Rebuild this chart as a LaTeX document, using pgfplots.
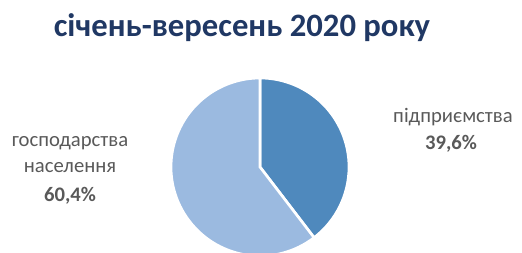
\documentclass[border=0pt]{standalone}
\usepackage{pgfplots}
\pgfplotsset{compat=1.18}
\usepackage{pgfplotstable}
\usepackage{fontspec}
\setmainfont{Carlito}
\definecolor{darkslice}{HTML}{4F89BD}
\definecolor{lightslice}{HTML}{9BBAE0}
\definecolor{titleblue}{HTML}{203864}
\definecolor{labgray}{HTML}{595959}
\pgfplotstableread{
label value
pidpr 39.6
gosp 60.4
}\piedata
\begin{document}
\begin{tikzpicture}
\pgfplotstablegetelem{0}{value}\of\piedata \let\va\pgfplotsretval
\pgfplotstablegetelem{1}{value}\of\piedata \let\vb\pgfplotsretval
\begin{axis}[
  hide axis, scale only axis, anchor=south west, at={(0,0)},
  x=0.75pt, y=0.75pt, xmin=0, xmax=522, ymin=0, ymax=253,
  clip=false,
]
\pgfmathsetmacro{\aend}{90-\va*3.6}
\pgfmathsetmacro{\bend}{\aend-\vb*3.6}
\fill[darkslice, draw=white, line width=2pt, line join=miter]
  (axis cs:260,86) -- ++(90:66.75pt) arc[start angle=90, end angle=\aend, radius=66.75pt] -- cycle;
\fill[lightslice, draw=white, line width=2pt, line join=miter]
  (axis cs:260,86) -- ++(\aend:66.75pt) arc[start angle=\aend, end angle=\bend, radius=66.75pt] -- cycle;
\node[anchor=base, text=titleblue, font=\fontsize{24.5pt}{28pt}\selectfont\bfseries] at (axis cs:242,216) {січень-вересень 2020 року};
\node[anchor=base, text=labgray, font=\fontsize{15.5pt}{18pt}\selectfont] at (axis cs:70,106) {господарства};
\node[anchor=base, text=labgray, font=\fontsize{15.5pt}{18pt}\selectfont] at (axis cs:70,80) {населення};
\node[anchor=base, text=labgray, font=\fontsize{15.5pt}{18pt}\selectfont\bfseries] at (axis cs:70,51) {60,4\%};
\node[anchor=base, text=labgray, font=\fontsize{15.5pt}{18pt}\selectfont] at (axis cs:453,130) {підприємства};
\node[anchor=base, text=labgray, font=\fontsize{15.5pt}{18pt}\selectfont\bfseries] at (axis cs:451,103) {39,6\%};
\end{axis}
\pgfresetboundingbox
\path[use as bounding box] (0,0) rectangle (391.5pt,189.75pt);
\end{tikzpicture}
\end{document}
